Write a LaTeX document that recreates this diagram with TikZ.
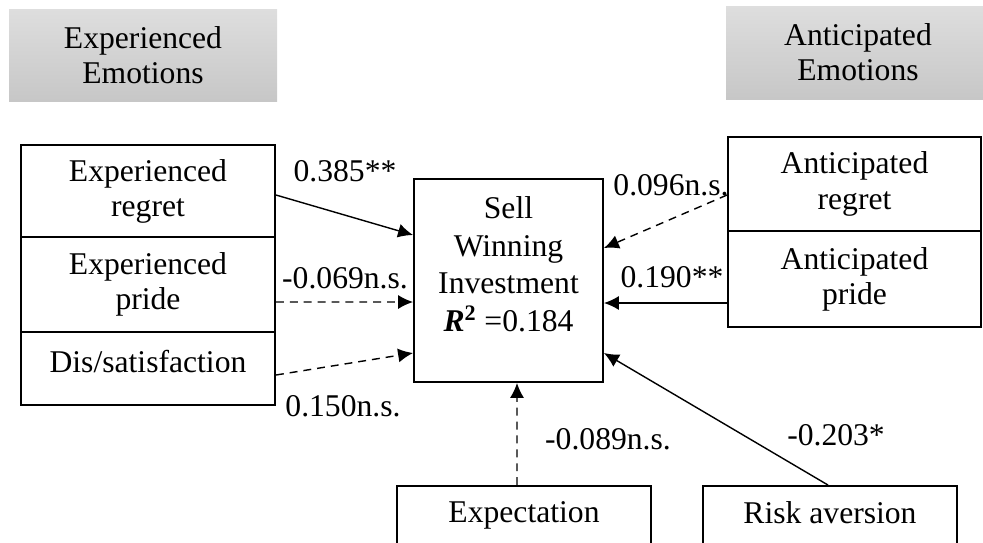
\documentclass[tikz,border=0pt]{standalone}
\usepackage{fontspec}
\setmainfont{Liberation Serif}
\usetikzlibrary{arrows.meta}
\tikzstyle{factor} = [
  draw,
  rectangle,
  line width=1.1pt,
  align=center,
  inner sep=0pt,
  font=\fontsize{18}{20}\selectfont,
]
\tikzstyle{group} = [
  rectangle,
  top color=black!13,
  bottom color=black!22,
  align=center,
  inner sep=0pt,
  font=\fontsize{18}{20}\selectfont,
]
\tikzstyle{coef} = [
  inner sep=0pt,
  font=\fontsize{18}{20}\selectfont,
]
\tikzstyle{sig} = [
  ->,
  line width=0.8pt,
]
\tikzstyle{nonsig} = [
  ->,
  line width=0.8pt,
  dash pattern=on 4.5pt off 3.4pt,
]

\begin{document}
\begin{tikzpicture}[
    >={Latex[length=8.5pt,width=8pt]},
  ]
  \useasboundingbox (0,0) rectangle (19.66,-10.84);
  % group headings
  \node[
    group,
    minimum width=5.36cm,
    minimum height=1.84cm,
  ] (expgroup) at (2.86,-1.10) {Experienced\\Emotions};
  \node[
    group,
    minimum width=5.28cm,
    minimum height=1.86cm,
  ] (antgroup) at (17.16,-1.05) {Anticipated\\Emotions};
  % experienced emotions
  \node[
    factor,
    minimum width=5.08cm,
    minimum height=1.84cm,
  ] (expregret) at (2.96,-3.82) {Experienced\\regret};
  \node[
    factor,
    minimum width=5.08cm,
    minimum height=1.90cm,
  ] (exppride) at (2.96,-5.69) {Experienced\\pride};
  \node[
    factor,
    minimum width=5.08cm,
    minimum height=1.46cm,
    text depth=0.3cm,
  ] (dissat) at (2.96,-7.37) {Dis/satisfaction};
  % outcome
  \node[
    factor,
    minimum width=3.78cm,
    minimum height=4.06cm,
    font=\fontsize{18}{21.5}\selectfont,
    text depth=0.66cm,
  ] (sell) at (10.17,-5.61)
    {Sell\\Winning\\Investment\\\textbf{\textit{R}}\textsuperscript{\textbf{2}} =0.184};
  % anticipated emotions
  \node[
    factor,
    minimum width=5.06cm,
    minimum height=1.88cm,
  ] (antregret) at (17.09,-3.68) {Anticipated\\regret};
  \node[
    factor,
    minimum width=5.06cm,
    minimum height=1.92cm,
  ] (antpride) at (17.09,-5.58) {Anticipated\\pride};
  % controls
  \node[
    factor,
    minimum width=5.08cm,
    minimum height=1.2cm,
    text depth=0.14cm,
  ] (expect) at (10.48,-10.32) {Expectation};
  \node[
    factor,
    minimum width=5.08cm,
    minimum height=1.2cm,
    text depth=0.14cm,
  ] (riskav) at (16.6,-10.32) {Risk aversion};
  % paths
  \draw[sig] ([yshift=-0.08cm]expregret.east) -- ([yshift=0.91cm]sell.west);
  \draw[nonsig] ([yshift=-0.35cm]exppride.east) -- ([yshift=-0.43cm]sell.west);
  \draw[nonsig] ([yshift=-0.13cm]dissat.east) -- ([yshift=-1.45cm]sell.west);
  \draw[nonsig] ([yshift=-0.22cm]antregret.west) -- ([yshift=0.65cm]sell.east);
  \draw[sig] ([yshift=-0.48cm]antpride.west) -- ([yshift=-0.45cm]sell.east);
  \draw[nonsig] ([xshift=-0.14cm]expect.north) -- ([xshift=0.17cm]sell.south);
  \draw[sig] ([xshift=-0.04cm]riskav.north) -- ([yshift=-1.45cm]sell.east);
  % coefficients
  \node[coef] (cexpregret) at (6.9,-3.42) {0.385**};
  \node[coef] (cexppride) at (6.9,-5.56) {-0.069n.s.};
  \node[coef] (cdissat) at (6.86,-8.12) {0.150n.s.};
  \node[coef] (cantregret) at (13.42,-3.70) {0.096n.s.};
  \node[coef] (cantpride) at (13.44,-5.54) {0.190**};
  \node[coef] (cexpect) at (12.16,-8.78) {-0.089n.s.};
  \node[coef] (criskav) at (16.72,-8.70) {-0.203*};
\end{tikzpicture}
\end{document}
